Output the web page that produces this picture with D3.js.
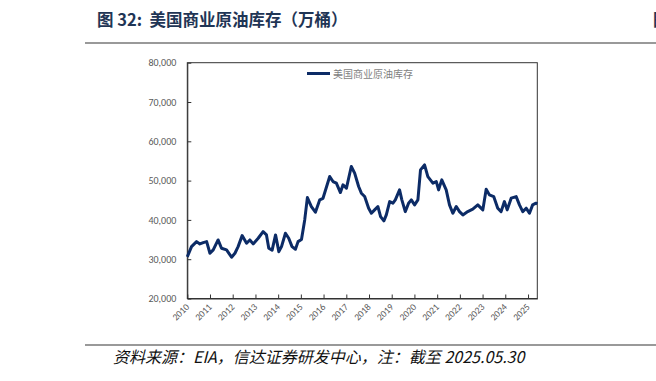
<!DOCTYPE html>
<html>
<head>
<meta charset="utf-8">
<script src="https://cdn.jsdelivr.net/npm/d3@7"></script>
<style>
  html, body { margin: 0; padding: 0; background: #fff; }
  svg { display: block; }
</style>
</head>
<body>
<script>
// ---- data (万桶) ----
const dates = [
  "2010-01-01","2010-01-07","2010-03-10","2010-05-30","2010-07-22","2010-09-14","2010-11-08","2010-12-31",
  "2011-02-22","2011-05-11","2011-07-05","2011-09-24","2011-12-14",
  "2012-02-06","2012-03-28","2012-06-01","2012-08-11","2012-10-03","2012-11-25",
  "2013-02-14","2013-05-04","2013-06-27","2013-08-03","2013-09-26","2013-11-20",
  "2014-01-12","2014-02-24","2014-04-28","2014-06-20","2014-08-12","2014-10-06","2014-11-17",
  "2015-01-11","2015-03-04","2015-04-16","2015-06-19","2015-08-23","2015-11-01","2015-12-23",
  "2016-04-09","2016-06-01","2016-07-25","2016-09-28","2016-11-09",
  "2017-01-03","2017-03-22","2017-05-15","2017-07-18","2017-08-31","2017-10-23","2017-12-26",
  "2018-02-08","2018-04-01","2018-05-24","2018-07-06","2018-08-28","2018-10-06","2018-11-29",
  "2019-01-21","2019-02-28","2019-05-07","2019-06-13","2019-08-07","2019-09-29","2019-11-12",
  "2020-01-04","2020-02-26","2020-04-08","2020-06-12","2020-08-04","2020-10-24","2020-12-18",
  "2021-01-24","2021-02-09","2021-03-16","2021-05-26","2021-07-18","2021-09-10","2021-11-04","2021-12-26",
  "2022-02-18","2022-05-08","2022-07-27","2022-10-16",
  "2023-01-05","2023-02-28","2023-04-21","2023-06-29","2023-09-02","2023-10-26","2023-12-18",
  "2024-02-01","2024-04-05","2024-06-24","2024-08-16","2024-10-08","2024-12-02",
  "2025-01-24","2025-03-16","2025-05-10","2025-05-30"
];
const stocks = [
  30600,30830,33200,34470,33890,34220,34470,31510,
  32360,34900,32790,32360,30500,
  31510,33200,36000,34060,34900,33890,
  35330,37020,36180,32790,32300,36180,
  31920,33200,36610,35330,33200,32530,34470,
  35000,40000,45680,43400,41960,45100,45500,
  51030,49760,49340,46960,48920,
  48070,53580,51890,48490,46800,45940,42980,
  41700,42550,43400,40840,39740,41270,44660,
  44250,45100,47640,45100,42110,44250,45100,
  43820,45100,52740,54010,51030,49340,49760,
  47640,48490,50190,47640,43820,41700,43400,42110,
  41270,42110,42730,43820,
  42550,47820,46370,45940,42980,42110,44660,
  42550,45530,45940,43820,42110,42980,
  41700,43820,44250,44100
];
const yTicks = [20000, 30000, 40000, 50000, 60000, 70000, 80000];
const xTickYears = ["2010","2011","2012","2013","2014","2015","2016","2017","2018","2019","2020","2021","2022","2023","2024","2025"];
const seriesName = "美国商业原油库存";
const titleText = "图 32:\u00a0\u00a0美国商业原油库存（万桶）";
const sourceText = "资料来源：EIA，信达证券研发中心，注：截至 2025.05.30";

// ---- layout ----
const W = 656, H = 381;
const plot = { left: 187.3, top: 62.7, right: 537.3, bottom: 298.5 };
const parse = d3.timeParse("%Y-%m-%d");
const data = dates.map((d, i) => ({ date: parse(d), value: stocks[i] }));

const svg = d3.select("body").append("svg").attr("width", W).attr("height", H);

// title
svg.append("text")
  .attr("x", 97).attr("y", 26)
  .attr("font-family", "'Noto Sans CJK SC', sans-serif")
  .attr("font-weight", "bold").attr("font-size", 16.5)
  .attr("fill", "#1f3555")
  .text(titleText);
// partially visible title of the neighbouring figure at the right edge
svg.append("text")
  .attr("x", 653).attr("y", 26)
  .attr("font-family", "'Noto Sans CJK SC', sans-serif")
  .attr("font-weight", "bold").attr("font-size", 16.5)
  .attr("fill", "#1f3555")
  .text("图");

// rules
svg.append("line").attr("x1", 85).attr("x2", W).attr("y1", 43).attr("y2", 43)
  .attr("stroke", "#777").attr("stroke-width", 1.5);
svg.append("line").attr("x1", 85).attr("x2", W).attr("y1", 345).attr("y2", 345)
  .attr("stroke", "#777").attr("stroke-width", 1.5);

// source
svg.append("text")
  .attr("x", 113).attr("y", 363)
  .attr("font-family", "'Noto Sans CJK SC', sans-serif")
  .attr("font-style", "italic").attr("font-size", 16)
  .attr("fill", "#111")
  .text(sourceText);

// scales
const x = d3.scaleTime()
  .domain([parse("2010-01-01"), parse("2025-05-30")])
  .range([plot.left, plot.right]);
const y = d3.scaleLinear().domain([20000, 80000]).range([plot.bottom, plot.top]);

// frame
svg.append("rect")
  .attr("x", plot.left).attr("y", plot.top)
  .attr("width", plot.right - plot.left).attr("height", plot.bottom - plot.top)
  .attr("fill", "none").attr("stroke", "#333").attr("stroke-width", 1);

// y axis
const yAxis = d3.axisLeft(y).tickValues(yTicks).tickFormat(d3.format(",")).tickSizeInner(-4).tickSizeOuter(0).tickPadding(11);
const gy = svg.append("g").attr("transform", `translate(${plot.left},0)`).call(yAxis);
gy.select(".domain").attr("stroke", "#333");
gy.selectAll(".tick line").attr("stroke", "#333");
gy.selectAll(".tick text").attr("fill", "#595959")
  .attr("font-family", "Carlito, 'Liberation Sans', sans-serif").attr("font-size", 10);

// x axis
const xTicks = xTickYears.map(s => parse(s + "-01-01"));
const xAxis = d3.axisBottom(x).tickValues(xTicks).tickFormat(d3.timeFormat("%Y")).tickSizeInner(-4).tickSizeOuter(0);
const gx = svg.append("g").attr("transform", `translate(0,${plot.bottom})`).call(xAxis);
gx.select(".domain").attr("stroke", "#333");
gx.selectAll(".tick line").attr("stroke", "#333");
gx.selectAll(".tick text")
  .attr("fill", "#595959")
  .attr("font-family", "Carlito, 'Liberation Sans', sans-serif").attr("font-size", 9.5)
  .attr("text-anchor", "end")
  .attr("dy", null).attr("y", 0)
  .attr("transform", "translate(2,9) rotate(-45)");

// line
const line = d3.line().x(d => x(d.date)).y(d => y(d.value)).curve(d3.curveLinear);
svg.append("path").datum(data)
  .attr("d", line)
  .attr("fill", "none")
  .attr("stroke", "#0c2b66")
  .attr("stroke-width", 3)
  .attr("stroke-linejoin", "round");

// legend
const lg = svg.append("g");
lg.append("line").attr("x1", 307).attr("x2", 330).attr("y1", 73.5).attr("y2", 73.5)
  .attr("stroke", "#0c2b66").attr("stroke-width", 3);
lg.append("text").attr("x", 333).attr("y", 77.5)
  .attr("font-family", "'Noto Sans CJK SC', sans-serif").attr("font-size", 10)
  .attr("fill", "#7f7f7f")
  .text(seriesName);
</script>
</body>
</html>
